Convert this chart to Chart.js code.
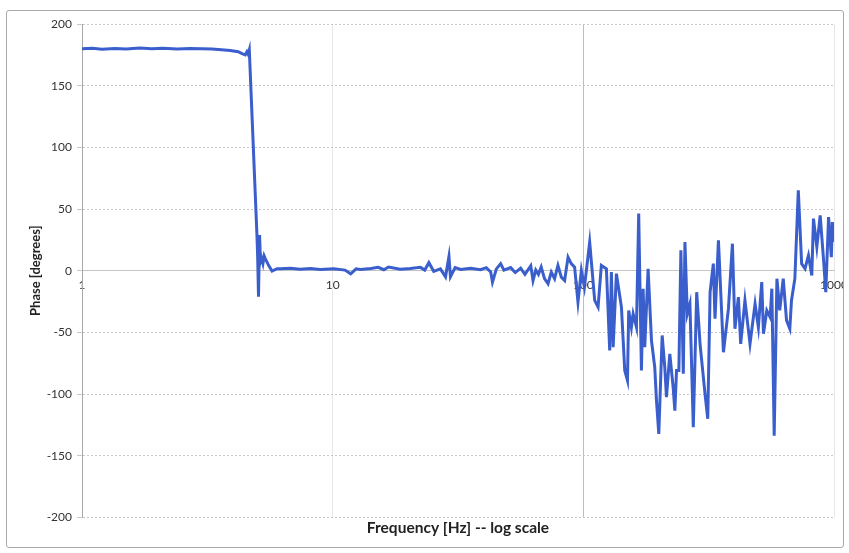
<!DOCTYPE html>
<html>
<head>
<meta charset="utf-8">
<script src="https://cdn.jsdelivr.net/npm/chart.js@4"></script>
<style>
  body { margin: 0; background: #fff; }
  #wrap {
    position: absolute; left: 6px; top: 10px;
    width: 836px; height: 536px;
    border: 1px solid #a8a8a8; border-radius: 3px;
  }
</style>
</head>
<body>
<div id="wrap"><canvas id="phaseChart"></canvas></div>
<script>
// frequency points [Hz]
const freqHz = [
  1.00, 1.10, 1.20, 1.35, 1.50, 1.70, 1.90, 2.10, 2.40, 2.70, 3.00, 3.30, 3.60, 3.90, 4.20, 4.35, 4.48, 4.55, 4.60, 4.65,
  4.99, 5.02, 5.06, 5.11, 5.15, 5.19, 5.27, 5.33, 5.38, 5.55, 5.73, 6.00,
  6.18, 6.78, 7.43, 8.15, 8.93, 10.1, 11.2, 11.8, 12.4, 12.9, 14.2, 15.2, 16.0, 16.7, 18.6, 20.4, 22.4, 23.3, 24.2, 25.3,
  26.9, 28.2, 29.1, 29.5, 30.8, 32.4, 35.5, 38.9, 41.0, 42.7, 43.4, 45.0, 46.8, 48.2, 51.3, 53.5, 56.2, 58.5, 61.7, 63.0, 64.6, 66.2,
  67.9, 70.0, 72.3, 74.5, 76.8, 79.2, 81.7, 84.2, 86.9, 89.5, 92.3, 95.2, 98.2, 101, 106, 111, 114.5, 118, 123.6, 127.4,
  129.4, 131.5, 135.5, 141.9, 146.3, 150, 151.7, 155.5, 158, 162.9, 166.3, 170.5, 173.2, 175.8, 181.3, 187, 192.7, 195.8, 200, 206.3,
  211.3, 214.6, 221.3, 228.2, 231.8, 235.4, 240.5, 245, 250.5, 254.3, 259.9, 266.2, 274.6, 283.3, 292.1, 305.8, 313.6, 320.4, 330.1, 335.2,
  345.9, 362.2, 379.2, 393.3, 402.6, 415.5, 424.4, 441.3, 462.3, 484.3, 499.2, 515, 523.1, 539.4, 556.3, 565, 577.3, 592, 607.3, 627.3,
  646.6, 666.5, 676.7, 698, 720.4, 742.8, 766.4, 790.8, 815.5, 828.2, 854.1, 880.7, 908.9, 927.3, 951.3, 975.7, 985, 1000
];

// phase [degrees]
const phaseDeg = [
  180, 180.4, 179.6, 180.2, 179.8, 180.5, 180, 180.3, 179.7, 180.2, 180, 179.8, 179.2, 178.5, 177.5, 176, 175, 177.5, 175.5, 179,
  28, 12, -21, 29, 8, 11, 5.7, 12, 10, 4.3, -0.3, 1.6,
  1.5, 2.0, 1.2, 1.8, 1.0, 1.5, 0.5, -2.5, 1.5, 1.0, 1.8, 2.7, 0.8, 3.0, 1.2, 1.8, 2.7, 0.5, 6.5, -0.5,
  1.5, -5, 11.5, -5, 2.5, 1.0, 2.0, 0.8, 2.5, -1, -9.3, 1.5, 5.7, 0.5, 2.5, -1.5, 2, -3, 4, -8, 0.5, -3,
  2.9, -6.5, -10.6, -1.1, -6.5, 4.3, -5.2, -7.9, 11, 5.7, 2.9, -25.5, 0.2, -13.3, 23.2, -24.1, -29.5, 4.3, 1.6, -64.7,
  -1.1, -62, -2.4, -29.5, -80.9, -89, -32.2, -45.8, -34.9, -45.8, 46.3, -80.9, -14.6, -62, 1.6, -56.6, -78.2, -105.3, -132.3, -52.5,
  -78.2, -102.6, -67.4, -94.5, -113.4, -80.9, -80.9, 16.5, -83.6, 23.2, -34.9, -26.8, -126.9, -17.4, -59.3, -99.8, -120.1, -17.4, 5.7, -39,
  24.6, -66.1, -30.8, 21.9, -47.1, -21.4, -59.3, -24.1, -59.3, -26.8, -45.8, -9.3, -51.1, -32.2, -37.7, -14.6, -133.7, -6.5, -32.2, -6.5,
  -40.3, -47.1, -24.1, -6.5, 65.2, 5.7, 1.6, 12.4, -3.8, 42.2, 19.2, 44.9, 8.4, -17.4, 43.5, 11, 39.4, 23.2
];

const xTickValues = [1, 10, 100, 1000];
const yMin = -200, yMax = 200, yStep = 50;

const points = freqHz.map((f, i) => ({ x: f, y: phaseDeg[i] }));
const FONT = 'Lato, "Open Sans", sans-serif';

const ctx = document.getElementById('phaseChart');

const phaseChart = new Chart(ctx, {
    type: 'line',
    data: {
        datasets: [{
            data: points,
            borderColor: '#3a5fcd',
            backgroundColor: '#3a5fcd',
            borderWidth: 3,
            pointRadius: 0,
            tension: 0
        }]
    },
    options: {
        responsive: true,
        maintainAspectRatio: false,
        animation: false,
        layout: { padding: { left: 0, right: 9, top: 13, bottom: 8 } },
        plugins: {
            legend: { display: false },
            tooltip: { enabled: false },
            title: {
                display: true,
                position: 'bottom',
                fullSize: false,
                text: 'Frequency [Hz] -- log scale',
                color: '#222',
                font: { family: FONT, size: 15.5, weight: 'bold' },
                padding: { top: 1, bottom: 2 }
            }
        },
        scales: {
            x: {
                type: 'logarithmic',
                min: 1,
                max: 1000,
                position: { y: 0 },
                afterBuildTicks: (s) => { s.ticks = xTickValues.map(v => ({ value: v })); },
                afterFit: (s) => { s.paddingLeft = 0; s.paddingRight = 0; },
                ticks: {
                    callback: (v) => String(v),
                    color: '#333',
                    font: { family: FONT, size: 12 },
                    padding: 7,
                    maxRotation: 0,
                    autoSkip: false
                },
                grid: {
                    drawTicks: false,
                    color: (c) => (c.tick && c.tick.value === 100) ? 'rgba(125,140,245,0.6)' : '#e6e6e6'
                },
                border: { display: true, color: '#c4c4c4' }
            },
            y: {
                min: yMin,
                max: yMax,
                afterFit: (s) => { s.width = 75; },
                ticks: {
                    stepSize: yStep,
                    color: '#333',
                    font: { family: FONT, size: 12 },
                    padding: 5
                },
                grid: { color: '#c8c8c8', tickLength: 5 },
                border: { display: true, color: '#a8a8a8', dash: [2, 2] },
                title: {
                    display: true,
                    text: 'Phase [degrees]',
                    color: '#222',
                    font: { family: FONT, size: 13, weight: 'bold' },
                    padding: { top: 21, bottom: 0 }
                }
            }
        }
    }
});
</script>
</body>
</html>
